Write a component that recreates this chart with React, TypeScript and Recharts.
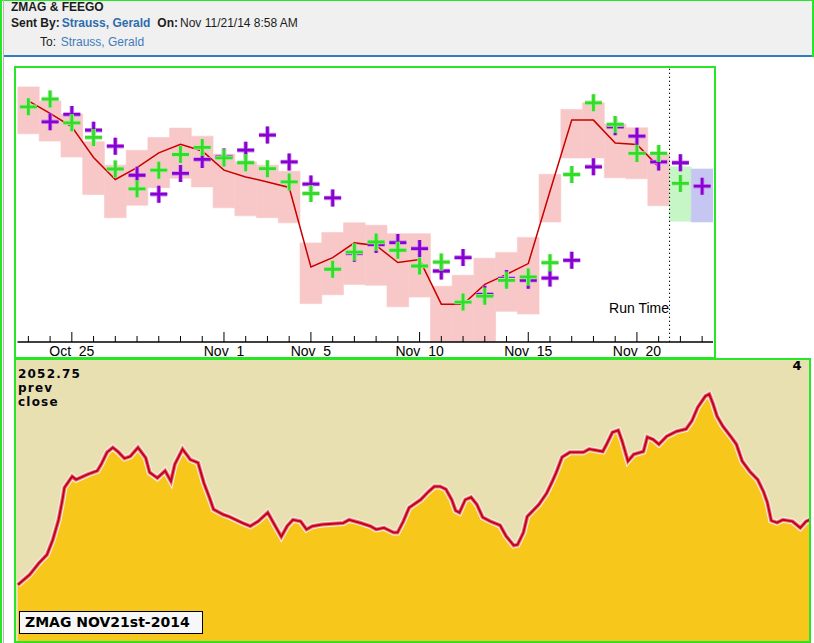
import { ComposedChart, Bar, Cell, Line, Scatter, Area, XAxis, YAxis, ReferenceLine } from 'recharts';

// ---- upper chart: one slot per calendar day, Oct 23 .. Nov 23 ----
const days = [
  'Oct 23', 'Oct 24', 'Oct 25', 'Oct 26', 'Oct 27', 'Oct 28', 'Oct 29', 'Oct 30', 'Oct 31',
  'Nov 1', 'Nov 2', 'Nov 3', 'Nov 4', 'Nov 5', 'Nov 6', 'Nov 7', 'Nov 8', 'Nov 9', 'Nov 10',
  'Nov 11', 'Nov 12', 'Nov 13', 'Nov 14', 'Nov 15', 'Nov 16', 'Nov 17', 'Nov 18', 'Nov 19',
  'Nov 20', 'Nov 21', 'Nov 22', 'Nov 23'
];
const labeledDays = ['Oct 25', 'Nov 1', 'Nov 5', 'Nov 10', 'Nov 15', 'Nov 20'];
const forecastDays = ['Nov 22', 'Nov 23'];

const bandLow = [
  270, 205, 112, 27, 11.2, 18, 35, 50, 36, 16.3, 12, 11.2, 9.2, 0.43, 0.6, 0.89,
  0.86, 0.38, 0.55, 0.1, 0.1, 0.1, 0.32, 0.29, 9.5, 108, 108, 51, 49, 17.6, 9.8, 9.5
];
const bandHigh = [
  1600, 940, 570, 200, 82, 145, 235, 335, 247, 125, 93, 82, 65, 4.3, 6.4, 9.2,
  8.4, 6.1, 6.1, 0.83, 1.26, 2.4, 3.0, 5.3, 58, 680, 875, 390, 339, 125, 77, 71
];
const trend = [
  944, 585, 352, 110, 47.7, 75, 131, 182, 141, 68, 52.6, 43.5, 35.2, 1.72, 2.46, 4.3,
  3.9, 2.04, 2.28, 0.42, 0.42, 0.89, 1.3, 1.96, 30.5, 454, 454, 191, 180, 77, null, null
];
const greenMarks = [
  752, 1008, 409, 235, 71, 33.4, 68, 123, 161, 108, 90, 72, 43.5, 28, 1.58, 3.04,
  4.45, 3.25, 1.79, 2.08, 0.455, 0.57, 1.04, 1.18, 2.03, 57.6, 875, 385, 128, 128, 41, null
];
const purpleMarks = [
  null, 425, 563, 310, 169, 56, 27.3, 60, 102, 112, 145, 257, 93, 40, 23.7, 2.9,
  4.03, 4.35, 3.46, 1.48, 2.46, 0.61, 1.11, 1.04, 1.13, 2.22, 77, 352, 247, 93, 90, 37
];

const yTicks = [
  0.2, 0.3, 0.4, 0.5, 0.6, 0.7, 0.8, 0.9,
  1, 2, 3, 4, 5, 6, 7, 8, 9,
  10, 20, 30, 40, 50, 60, 70, 80, 90,
  100, 200, 300, 400, 500, 600, 700, 800, 900,
  1000, 2000, 3000
];
const majorY = [1, 10, 100, 1000];

// ---- lower chart: intraday, minutes after midnight ----
const intradayTimes = [
  544, 550, 555, 559, 562, 565, 567, 568, 572, 574,
  580, 585, 587, 590, 593, 596, 599, 602, 606, 610,
  612, 616, 620, 623, 625, 629, 633, 637, 640, 643,
  645, 650, 653, 660, 664, 668, 673, 676, 680, 683,
  686, 690, 693, 696, 701, 712, 715, 721, 726, 729,
  733, 738, 740, 743, 746, 752, 756, 759, 762, 765,
  768, 770, 772, 775, 778, 781, 784, 788, 793, 796,
  800, 802, 805, 807, 810, 813, 817, 820, 822, 825,
  829, 836, 839, 846, 848, 851, 854, 856, 859, 862,
  867, 869, 872, 875, 879, 884, 889, 892, 895, 899,
  901, 903, 905, 908, 912, 915, 918, 922, 926, 929,
  931, 933, 936, 939, 944, 948, 951, 953
];
const intradayPrices = [
  2044.0, 2045.25, 2046.75, 2047.75, 2049.6, 2052.1, 2054.6, 2056.1, 2057.5, 2057.1,
  2057.75, 2058.2, 2059.0, 2060.5, 2061.1, 2060.5, 2059.75, 2060.0, 2061.1, 2059.8,
  2058.0, 2057.3, 2058.2, 2056.9, 2059.0, 2060.9, 2059.6, 2059.2, 2056.7, 2054.8,
  2053.4, 2052.75, 2052.5, 2051.7, 2051.3, 2051.9, 2053.0, 2051.7, 2050.0, 2051.3,
  2052.1, 2051.9, 2050.9, 2051.3, 2051.5, 2051.7, 2052.1, 2051.7, 2051.3, 2050.9,
  2051.1, 2050.5, 2050.5, 2051.9, 2053.6, 2054.6, 2055.6, 2056.25, 2056.25, 2055.9,
  2054.6, 2053.25, 2053.0, 2054.6, 2054.9, 2054.0, 2052.4, 2051.9, 2051.4, 2050.1,
  2048.9, 2049.0, 2050.5, 2052.5, 2053.25, 2054.0, 2055.4, 2056.9, 2058.0, 2059.9,
  2060.5, 2060.5, 2060.9, 2060.6, 2061.5, 2063.0, 2063.25, 2061.9, 2059.4, 2060.25,
  2060.6, 2062.4, 2062.1, 2061.5, 2062.5, 2063.1, 2063.4, 2064.4, 2066.1, 2067.5,
  2067.75, 2066.5, 2065.0, 2063.75, 2062.5, 2061.5, 2059.4, 2058.1, 2057.1, 2055.6,
  2054.25, 2052.0, 2051.75, 2052.1, 2051.9, 2051.1, 2051.9, 2052.1
];
const prevCloseLines = ['2052.75', 'prev', 'close'];
const hourTicks = [600, 660, 720, 780, 840, 900];
const hourLabels = ['10', '11', '12', '1', '2', '3'];
const tallHours = [660, 840];

const SANS = '"Liberation Sans", Arial, sans-serif';
const BOLD = '"DejaVu Sans", sans-serif';
const GREEN_BORDER = '#26e626';

const chartData = days.map((day, d) => ({
  d,
  day,
  band: [bandLow[d], bandHigh[d]],
  trend: trend[d]
}));
const greenPts = greenMarks.map((v, d) => ({ d, v })).filter(p => p.v !== null);
const purplePts = purpleMarks.map((v, d) => ({ d, v })).filter(p => p.v !== null);
const intraday = intradayTimes.map((t, i) => ({ t, p: intradayPrices[i] }));

const bandFill = (day: string) => {
  if (day === forecastDays[0]) return '#c6f6c6';
  if (day === forecastDays[1]) return '#c6c6f3';
  return '#f8c8c8';
};

const LeftTick = (p: any) => {
  const len = majorY.includes(p.payload.value) ? 14 : 7.5;
  return <line x1={p.x} y1={p.y} x2={p.x + len} y2={p.y} stroke="#000" strokeWidth={1} />;
};

const RightTick = (p: any) => {
  const len = majorY.includes(p.payload.value) ? 14 : 7;
  return <line x1={p.x} y1={p.y} x2={p.x - len} y2={p.y} stroke="#000" strokeWidth={1} />;
};

const DayTick = (p: any) => {
  const label = days[p.payload.value];
  const major = labeledDays.includes(label);
  return (
    <g>
      <line x1={p.x} y1={p.y} x2={p.x} y2={p.y - (major ? 10 : 6)} stroke="#000" strokeWidth={1} />
      {major && (
        <text x={p.x} y={p.y + 13.5} textAnchor="middle" fontSize={14} fontFamily={SANS} fill="#000">
          {label.replace(' ', '\u00a0 ')}
        </text>
      )}
    </g>
  );
};

const crossShape = (core: string, fringe: string) => (p: any) => {
  const { cx, cy } = p;
  if (!Number.isFinite(cx) || !Number.isFinite(cy)) return null;
  const d = `M${cx - 8.5},${cy} H${cx + 8.5} M${cx},${cy - 8.5} V${cy + 8.5}`;
  return (
    <g>
      <path d={d} stroke={fringe} strokeWidth={4.5} fill="none" />
      <path d={d} stroke={core} strokeWidth={2.8} fill="none" />
    </g>
  );
};

const HourTick = (p: any) => {
  const v = p.payload.value;
  const tall = tallHours.includes(v);
  return (
    <g>
      <rect x={p.x - 1.5} y={p.y} width={3} height={tall ? 12 : 5} fill={tall ? '#2a2a2a' : '#555'} />
      <text x={p.x} y={p.y + 27} textAnchor="middle" fontSize={13} fontWeight="bold" fontFamily={BOLD} fill="#000">
        {hourLabels[hourTicks.indexOf(v)]}
      </text>
    </g>
  );
};

const abs = (left: number, top: number, extra: any = {}) => ({
  position: 'absolute' as const,
  left,
  top,
  whiteSpace: 'nowrap' as const,
  ...extra
});

export default function App() {
  const headText = { fontSize: 12, lineHeight: '14px', fontFamily: SANS, color: '#1c1c1c' };
  return (
    <div style={{ position: 'relative', width: 814, height: 643, overflow: 'hidden', background: '#fff', fontFamily: SANS }}>
      <style>{'body{margin:0}'}</style>

      {/* Header */}
      <div style={abs(4, 0, { width: 808, height: 55, background: '#f0f0f0' })} />
      <div style={abs(4, 55, { width: 808, height: 2, background: '#2f7dbd' })} />
      <div style={abs(0, 0, { width: 2, height: 643, background: GREEN_BORDER })} />
      <div style={abs(0, 0, { width: 814, height: 1, background: GREEN_BORDER })} />
      <div style={abs(812, 0, { width: 2, height: 57, background: GREEN_BORDER })} />
      <div style={abs(3, 0, { width: 1, height: 643, background: '#b8b8b8' })} />

      <span style={abs(11, 0, { ...headText, fontWeight: 'bold' })}>ZMAG &amp; FEEGO</span>
      <span style={abs(11, 16.3, { ...headText, fontWeight: 'bold' })}>Sent By:</span>
      <span style={abs(61.7, 16.3, { ...headText, fontWeight: 'bold', color: '#2e6cae' })}>Strauss, Gerald</span>
      <span style={abs(157.3, 16.3, { ...headText, fontWeight: 'bold' })}>On:</span>
      <span style={abs(180, 16.3, headText)}>Nov 11/21/14 8:58 AM</span>
      <span style={abs(40, 35, headText)}>To:</span>
      <span style={abs(60.7, 35, { ...headText, color: '#3f7cbd' })}>Strauss, Gerald</span>

      {/* Upper chart */}
      <div style={abs(14, 66, { width: 702, height: 293, border: `2px solid ${GREEN_BORDER}`, boxSizing: 'border-box', background: '#fff' })}>
        <ComposedChart
          width={698}
          height={289}
          data={chartData}
          margin={{ top: 0, right: 1, bottom: 0, left: 1.5 }}
          barCategoryGap={0}
          barGap={0}
        >
          <XAxis
            type="number"
            dataKey="d"
            domain={[-0.5, 31.5]}
            ticks={days.map((_, d) => d)}
            interval={0}
            height={15}
            tickLine={false}
            tickSize={0}
            tickMargin={0}
            axisLine={{ stroke: '#000', strokeWidth: 1.5 }}
            tick={<DayTick />}
            allowDataOverflow
          />
          <YAxis
            type="number"
            scale="log"
            domain={[0.1, 3280]}
            ticks={yTicks}
            interval={0}
            width={0}
            tickLine={false}
            tickSize={0}
            tickMargin={0}
            axisLine={{ stroke: '#000', strokeWidth: 1.5 }}
            tick={<LeftTick />}
            allowDataOverflow
          />
          <YAxis
            yAxisId="r"
            orientation="right"
            type="number"
            scale="log"
            domain={[0.1, 3280]}
            ticks={yTicks}
            interval={0}
            width={0}
            tickLine={false}
            tickSize={0}
            tickMargin={0}
            axisLine={{ stroke: '#000', strokeWidth: 1.5 }}
            tick={<RightTick />}
            allowDataOverflow
          />
          <Bar dataKey="band" barSize={21.7} isAnimationActive={false}>
            {chartData.map(row => (
              <Cell key={row.day} fill={bandFill(row.day)} stroke={bandFill(row.day)} strokeWidth={0.6} />
            ))}
          </Bar>
          <ReferenceLine x={29.5} stroke="#000" strokeWidth={1} strokeDasharray="1.3 2.7" />
          <Line type="linear" dataKey="trend" stroke="#c80000" strokeWidth={1.5} dot={false} isAnimationActive={false} />
          <Scatter data={purplePts} dataKey="v" shape={crossShape('#8a00d2', '#c890ea')} isAnimationActive={false} />
          <Scatter data={greenPts} dataKey="v" shape={crossShape('#33dc28', '#a6ef9c')} isAnimationActive={false} />
        </ComposedChart>
      </div>
      <div style={abs(600, 300, { width: 69, textAlign: 'right', fontSize: 14, lineHeight: '16px', fontFamily: SANS, color: '#000' })}>
        Run Time
      </div>

      {/* Lower chart */}
      <div style={abs(14, 358, { width: 797, height: 285, border: `2px solid ${GREEN_BORDER}`, boxSizing: 'border-box', background: '#e8e0b0' })}>
        <ComposedChart width={793} height={281} data={intraday} margin={{ top: 0, right: 0, bottom: 0, left: 0 }}>
          <XAxis
            type="number"
            dataKey="t"
            domain={[543, 952.5]}
            orientation="top"
            height={0}
            ticks={hourTicks}
            interval={0}
            axisLine={false}
            tickLine={false}
            tickSize={0}
            tickMargin={0}
            tick={<HourTick />}
            allowDataOverflow
          />
          <YAxis hide type="number" domain={[2037, 2072]} allowDataOverflow />
          <Area type="linear" dataKey="p" fill="#f8c71b" fillOpacity={1} stroke="none" isAnimationActive={false} />
          <Line type="linear" dataKey="p" stroke="#fdf1ee" strokeWidth={6} dot={false} isAnimationActive={false} />
          <Line type="linear" dataKey="p" stroke="#e07a7a" strokeWidth={4} dot={false} isAnimationActive={false} />
          <Line type="linear" dataKey="p" stroke="#c6001a" strokeWidth={2} dot={false} isAnimationActive={false} />
        </ComposedChart>
      </div>
      {prevCloseLines.map((txt, i) => (
        <div
          key={txt}
          style={abs(18, 367 + i * 14, {
            height: 14,
            fontSize: 12,
            lineHeight: '14px',
            letterSpacing: '1.2px',
            fontWeight: 'bold',
            fontFamily: BOLD,
            color: '#05050f'
          })}
        >
          {txt}
        </div>
      ))}
      <div style={abs(792.5, 358, { fontSize: 13, lineHeight: '15px', fontWeight: 'bold', fontFamily: BOLD, color: '#000' })}>4</div>
      <div
        style={abs(19, 611, {
          width: 184,
          height: 23,
          border: '1px solid #000',
          boxSizing: 'border-box',
          background: '#f7f7f7',
          paddingLeft: 5,
          fontSize: 14,
          lineHeight: '21px',
          fontWeight: 'bold',
          fontFamily: BOLD,
          color: '#000'
        })}
      >
        ZMAG NOV21st-2014
      </div>
    </div>
  );
}
